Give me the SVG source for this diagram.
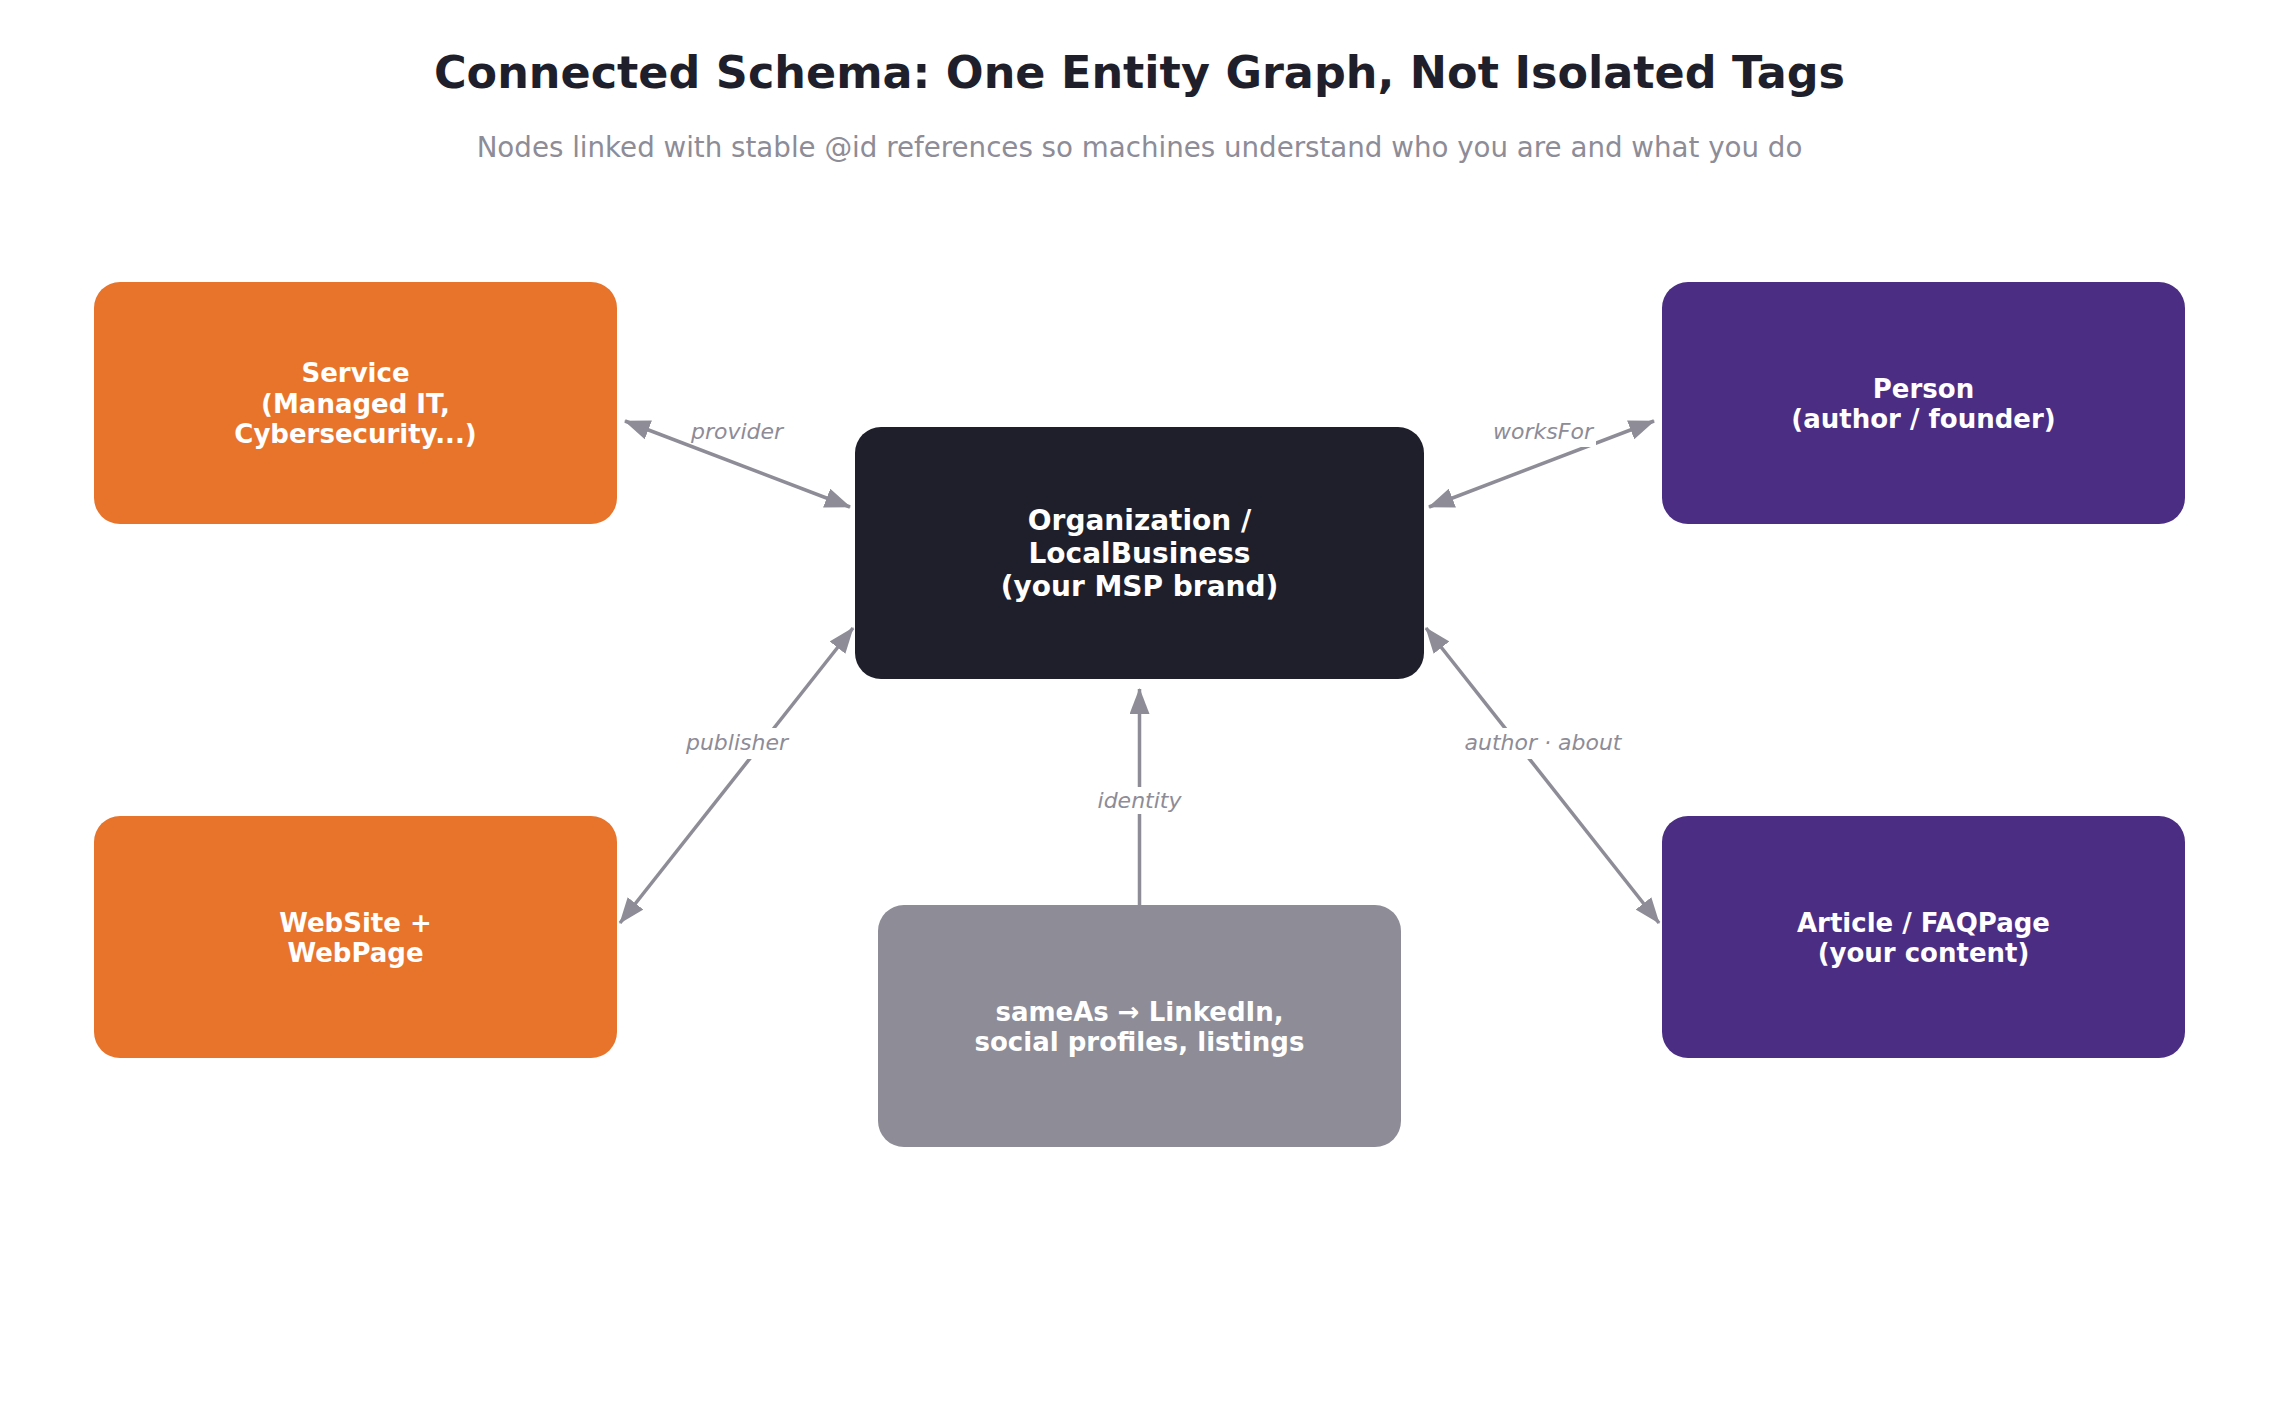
<svg xmlns="http://www.w3.org/2000/svg" width="2279" height="1419" viewBox="0 0 2279 1419">
<style>
.title{font-family:"DejaVu Sans",sans-serif;font-weight:bold;font-size:44.5px;fill:#1F1F2B;text-anchor:middle}
.sub{font-family:"DejaVu Sans",sans-serif;font-size:27.7px;fill:#8D8C97;text-anchor:middle}
.nt{font-family:"DejaVu Sans",sans-serif;font-weight:bold;font-size:26px;fill:#FFFFFF;text-anchor:middle}
.ntc{font-family:"DejaVu Sans",sans-serif;font-weight:bold;font-size:28px;fill:#FFFFFF;text-anchor:middle}
.lbl{font-family:"DejaVu Sans",sans-serif;font-style:italic;font-size:22px;fill:#8D8C97;text-anchor:middle}
.lblbg{fill:#FFFFFF}
.edge{stroke:#8D8C97;stroke-width:3.5;fill:none}
</style>
<defs>
<marker id="ah" viewBox="0 0 26 20" markerWidth="26" markerHeight="20" refX="25" refY="10" orient="auto-start-reverse" markerUnits="userSpaceOnUse">
<path d="M0,0 L26,10 L0,20 z" fill="#8D8C97"/>
</marker>
</defs>
<rect width="2279" height="1419" fill="#FFFFFF"/>
<text class="title" x="1139.5" y="88">Connected Schema: One Entity Graph, Not Isolated Tags</text>
<text class="sub" x="1139.5" y="157">Nodes linked with stable @id references so machines understand who you are and what you do</text>

<g id="connectors">
<line class="edge" x1="625" y1="421" x2="850" y2="507" marker-start="url(#ah)" marker-end="url(#ah)"/>
<line class="edge" x1="1654" y1="421" x2="1429" y2="507" marker-start="url(#ah)" marker-end="url(#ah)"/>
<line class="edge" x1="620" y1="923" x2="853" y2="628" marker-start="url(#ah)" marker-end="url(#ah)"/>
<line class="edge" x1="1659" y1="923" x2="1426" y2="628" marker-start="url(#ah)" marker-end="url(#ah)"/>
<line class="edge" x1="1139.5" y1="905" x2="1139.5" y2="689" marker-end="url(#ah)"/>
<rect class="lblbg" x="693" y="418" width="88" height="26"/>
<text class="lbl" x="737" y="439">provider</text>
<rect class="lblbg" x="1490" y="418" width="106" height="29"/>
<text class="lbl" x="1543" y="439">worksFor</text>
<rect class="lblbg" x="682" y="728" width="110" height="31"/>
<text class="lbl" x="737" y="750">publisher</text>
<rect class="lblbg" x="1461" y="728" width="164" height="31"/>
<text class="lbl" x="1543" y="750">author · about</text>
<rect class="lblbg" x="1094" y="787" width="91" height="27"/>
<text class="lbl" x="1139.5" y="808">identity</text>
</g>

<g id="service">
<rect x="94" y="282" width="523" height="242" rx="26" fill="#E8742C"/>
<text class="nt" x="355.5" y="382">Service</text>
<text class="nt" x="355.5" y="412.5">(Managed IT,</text>
<text class="nt" x="355.5" y="443">Cybersecurity...)</text>
</g>
<g id="organization">
<rect x="855" y="427" width="569" height="252" rx="26" fill="#1F1F2B"/>
<text class="ntc" x="1139.5" y="530">Organization /</text>
<text class="ntc" x="1139.5" y="563">LocalBusiness</text>
<text class="ntc" x="1139.5" y="596">(your MSP brand)</text>
</g>
<g id="person">
<rect x="1662" y="282" width="523" height="242" rx="26" fill="#4B2E83"/>
<text class="nt" x="1923.5" y="397.5">Person</text>
<text class="nt" x="1923.5" y="428">(author / founder)</text>
</g>
<g id="website">
<rect x="94" y="816" width="523" height="242" rx="26" fill="#E8742C"/>
<text class="nt" x="355.5" y="931.5">WebSite +</text>
<text class="nt" x="355.5" y="962">WebPage</text>
</g>
<g id="article">
<rect x="1662" y="816" width="523" height="242" rx="26" fill="#4B2E83"/>
<text class="nt" x="1923.5" y="931.5">Article / FAQPage</text>
<text class="nt" x="1923.5" y="962">(your content)</text>
</g>
<g id="sameas">
<rect x="878" y="905" width="523" height="242" rx="26" fill="#8D8C97"/>
<text class="nt" x="1139.5" y="1020.5">sameAs → LinkedIn,</text>
<text class="nt" x="1139.5" y="1051">social profiles, listings</text>
</g>
</svg>
